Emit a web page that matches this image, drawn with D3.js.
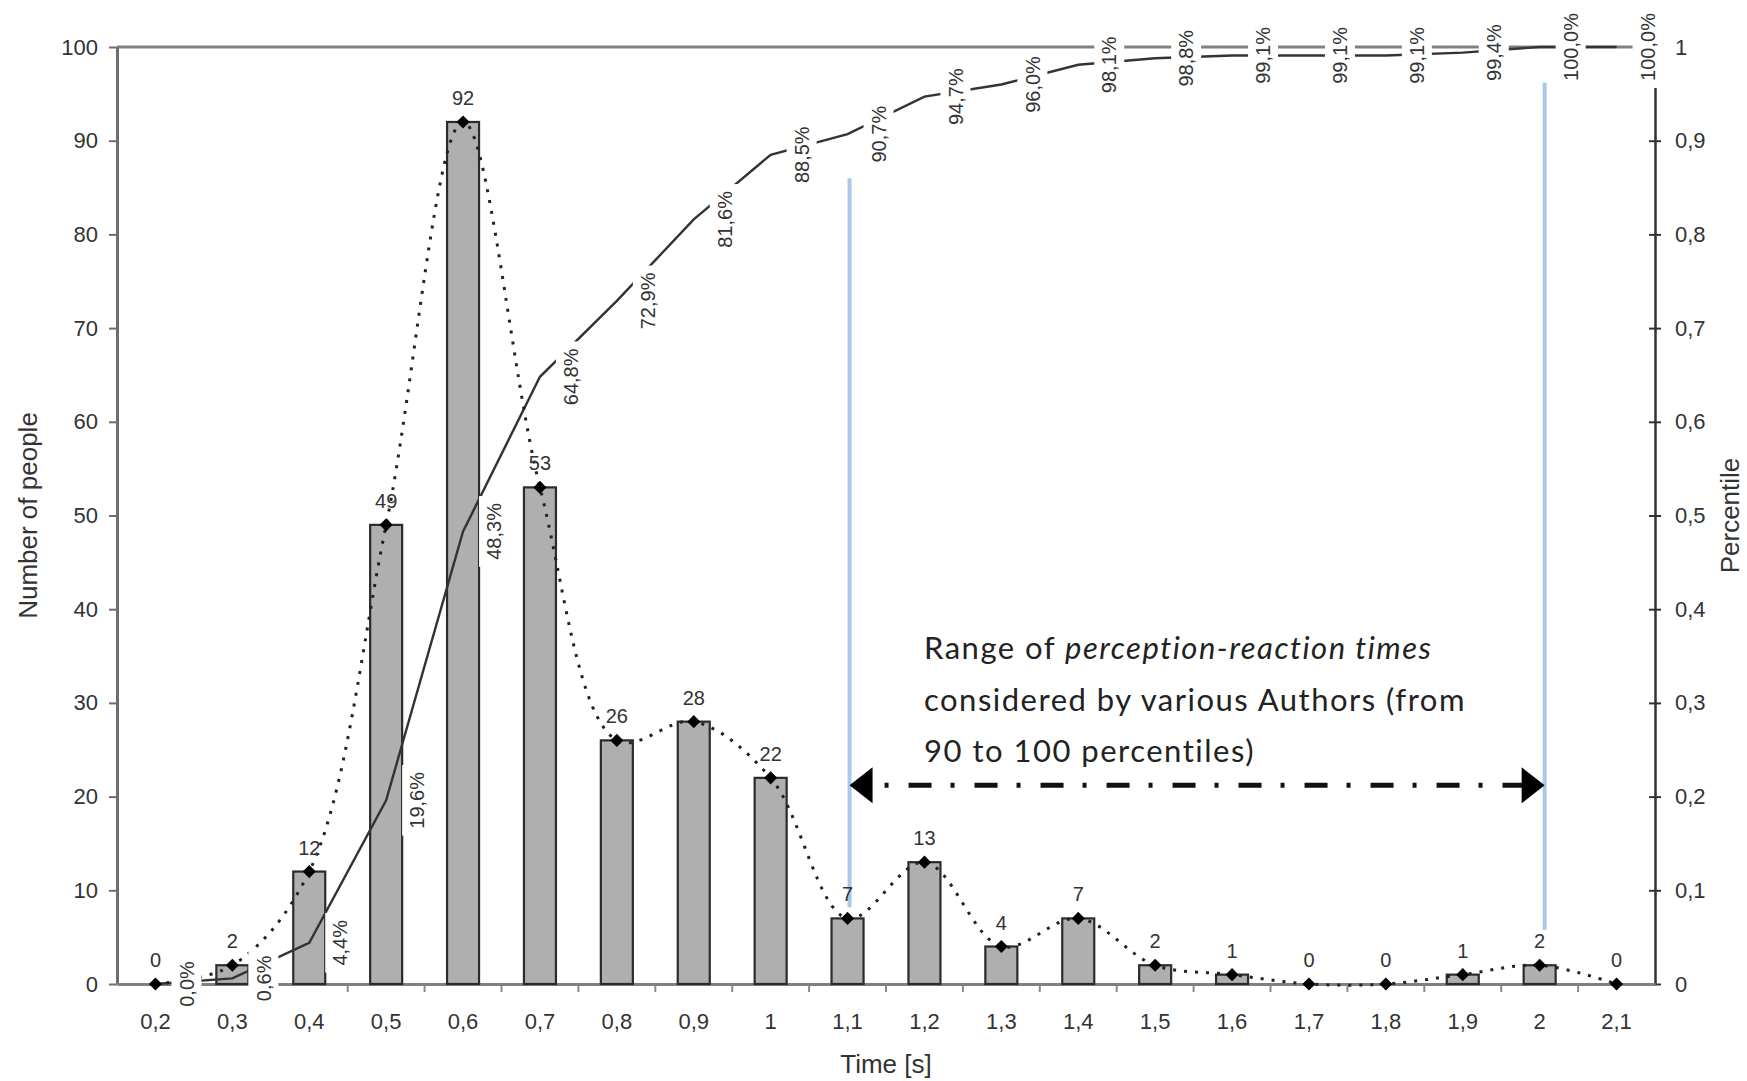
<!DOCTYPE html>
<html>
<head>
<meta charset="utf-8">
<script src="https://cdn.jsdelivr.net/npm/d3@7"></script>
<style>
  body { margin: 0; background: #fff; }
  svg text { font-family: "Liberation Sans", Arial, sans-serif; fill: #333; }
</style>
</head>
<body>
<script>
var times = ["0,2","0,3","0,4","0,5","0,6","0,7","0,8","0,9","1","1,1",
             "1,2","1,3","1,4","1,5","1,6","1,7","1,8","1,9","2","2,1"];
var people = [0, 2, 12, 49, 92, 53, 26, 28, 22, 7, 13, 4, 7, 2, 1, 0, 0, 1, 2, 0];
var cumulative = [0.0, 0.6, 4.4, 19.6, 48.3, 64.8, 72.9, 81.6, 88.5, 90.7,
                  94.7, 96.0, 98.1, 98.8, 99.1, 99.1, 99.1, 99.4, 100.0, 100.0];
var leftTicks = [0, 10, 20, 30, 40, 50, 60, 70, 80, 90, 100];
var rightTicks = [0, 0.1, 0.2, 0.3, 0.4, 0.5, 0.6, 0.7, 0.8, 0.9, 1];

// 90th and 100th percentile markers (category, top and bottom in people units)
var rangeFrom = { time: "1,1", top: 86, bottom: 8.2 };
var rangeTo   = { time: "2",   top: 96.2, bottom: 5.8 };
var arrowLevel = 21.2;

var w = 1747, h = 1081;
var pLeft = 117, pRight = 1655, pTop = 47, pBottom = 984;

var comma = function(v) { return String(v).replace(".", ","); };

var svg = d3.select("body").append("svg")
            .attr("width", w)
            .attr("height", h);

svg.append("rect").attr("width", w).attr("height", h).attr("fill", "#fff");

var x = d3.scaleBand().domain(times).range([pLeft, pRight]);
var bw = x.bandwidth();
var cx = function(t) { return x(t) + bw / 2; };
var yL = d3.scaleLinear().domain([0, 100]).range([pBottom, pTop]);
var yR = d3.scaleLinear().domain([0, 1]).range([pBottom, pTop]);

// plot frame top line
svg.append("line")
   .attr("x1", pLeft).attr("x2", pRight)
   .attr("y1", pTop).attr("y2", pTop)
   .attr("stroke", "#808080").attr("stroke-width", 3);

// left axis
var gL = svg.append("g")
            .attr("transform", "translate(" + pLeft + ",0)")
            .call(d3.axisLeft(yL).tickValues(leftTicks).tickSize(8).tickSizeOuter(0).tickPadding(11));
gL.select(".domain").attr("stroke", "#6e6e6e").attr("stroke-width", 3);
gL.selectAll(".tick line").attr("stroke", "#6e6e6e").attr("stroke-width", 2);
gL.selectAll(".tick text").attr("font-size", 22).attr("fill", "#333");

// right axis
var gR = svg.append("g")
            .attr("transform", "translate(" + pRight + ",0)")
            .call(d3.axisRight(yR).tickValues(rightTicks).tickFormat(comma)
                    .tickSize(6).tickSizeOuter(0).tickPadding(14));
gR.select(".domain").attr("stroke", "#333").attr("stroke-width", 2.5);
gR.selectAll(".tick line").attr("x1", -6).attr("stroke", "#333").attr("stroke-width", 2);
gR.selectAll(".tick text").attr("font-size", 22).attr("fill", "#333");

// bottom axis
var gX = svg.append("g")
            .attr("transform", "translate(0," + pBottom + ")")
            .call(d3.axisBottom(x).tickSize(0).tickPadding(29));
gX.select(".domain").attr("stroke", "#808080").attr("stroke-width", 3);
gX.selectAll(".tick text").attr("font-size", 22).attr("fill", "#333");
gX.selectAll(".cat-tick")
  .data(times.slice(1))
  .enter()
  .append("line")
  .attr("x1", d => x(d)).attr("x2", d => x(d))
  .attr("y1", 1).attr("y2", 8)
  .attr("stroke", "#8a8a8a").attr("stroke-width", 2);

// axis titles
svg.append("text")
   .attr("transform", "translate(37," + (pTop + pBottom) / 2 + ") rotate(-90)")
   .attr("text-anchor", "middle")
   .attr("font-size", 26)
   .text("Number of people");

svg.append("text")
   .attr("transform", "translate(1739," + (pTop + pBottom) / 2 + ") rotate(-90)")
   .attr("text-anchor", "middle")
   .attr("font-size", 26)
   .text("Percentile");

svg.append("text")
   .attr("x", (pLeft + pRight) / 2)
   .attr("y", 1073)
   .attr("text-anchor", "middle")
   .attr("font-size", 26)
   .text("Time [s]");

// bars
svg.selectAll(".bar")
   .data(people)
   .enter()
   .append("rect")
   .attr("class", "bar")
   .attr("x", (d, i) => cx(times[i]) - 16)
   .attr("width", 32)
   .attr("y", d => yL(d))
   .attr("height", d => yL(0) - yL(d))
   .attr("fill", "#afafaf")
   .attr("stroke", "#2b2b2b")
   .attr("stroke-width", 2.2);

// blue percentile lines
[rangeFrom, rangeTo].forEach(function(r, k) {
    var xx = cx(r.time) + (k == 0 ? 2 : 5);
    svg.append("line")
       .attr("x1", xx).attr("x2", xx)
       .attr("y1", yL(r.top)).attr("y2", yL(r.bottom))
       .attr("stroke", "#a9c9ec").attr("stroke-width", 4);
});

// cumulative line
var cumLine = d3.line()
                .x((d, i) => cx(times[i]))
                .y(d => yR(d / 100));
svg.append("path")
   .datum(cumulative)
   .attr("d", cumLine)
   .attr("fill", "none")
   .attr("stroke", "#333")
   .attr("stroke-width", 2.4);

// smoothed dotted line through counts
var countLine = d3.line()
                  .curve(d3.curveCatmullRom.alpha(0.5))
                  .x((d, i) => cx(times[i]))
                  .y(d => yL(d));
svg.append("path")
   .datum(people)
   .attr("d", countLine)
   .attr("fill", "none")
   .attr("stroke", "#222")
   .attr("stroke-width", 3)
   .attr("stroke-dasharray", "3 8");

// diamond markers
svg.selectAll(".dot")
   .data(people)
   .enter()
   .append("path")
   .attr("class", "dot")
   .attr("d", d3.symbol(d3.symbolDiamond2, 110))
   .attr("transform", (d, i) => "translate(" + cx(times[i]) + "," + yL(d) + ")")
   .attr("fill", "#000");

// count labels
svg.selectAll(".count")
   .data(people)
   .enter()
   .append("text")
   .attr("class", "count")
   .attr("x", (d, i) => cx(times[i]))
   .attr("y", d => yL(d) - 17)
   .attr("text-anchor", "middle")
   .attr("font-size", 20)
   .text(d => d);

// cumulative percent labels, rotated with white boxes
var pct = svg.selectAll(".pct")
             .data(cumulative)
             .enter()
             .append("g")
             .attr("class", "pct")
             .attr("transform", (d, i) => "translate(" + (cx(times[i]) + 31) + "," + yR(d / 100) + ") rotate(-90)");
pct.append("rect").attr("fill", "#fff");
var pctText = pct.append("text")
                 .attr("text-anchor", "middle")
                 .attr("dy", "0.36em")
                 .attr("font-size", 20)
                 .text(d => d.toFixed(1).replace(".", ",") + "%");
pctText.each(function() {
    var len = this.getComputedTextLength();
    d3.select(this.parentNode).select("rect")
      .attr("x", -len / 2 - 7).attr("width", len + 14)
      .attr("y", -15).attr("height", 30);
});

// range arrow
var ax1 = cx(rangeFrom.time) + 2, ax2 = cx(rangeTo.time) + 5, ay = yL(arrowLevel);
svg.append("line")
   .attr("x1", ax1 + 22).attr("x2", ax2 - 22)
   .attr("y1", ay).attr("y2", ay)
   .attr("stroke", "#111")
   .attr("stroke-width", 5)
   .attr("stroke-dasharray", "4 20 23 19")
   .attr("stroke-dashoffset", 53);
svg.append("path")
   .attr("d", "M" + ax1 + "," + ay + "L" + (ax1 + 23) + "," + (ay - 18) + "L" + (ax1 + 23) + "," + (ay + 18) + "Z")
   .attr("fill", "#000");
svg.append("path")
   .attr("d", "M" + ax2 + "," + ay + "L" + (ax2 - 23) + "," + (ay - 18) + "L" + (ax2 - 23) + "," + (ay + 18) + "Z")
   .attr("fill", "#000");

// annotation
var note = svg.append("text")
              .attr("x", 924)
              .attr("y", 659)
              .attr("font-size", 31)
              .attr("letter-spacing", 1.5)
              .style("font-family", "Lato, 'Open Sans', sans-serif")
              .style("fill", "#222");
note.append("tspan").text("Range of ");
note.append("tspan").style("font-style", "italic").text("perception-reaction times");
note.append("tspan").attr("x", 924).attr("y", 711).text("considered by various Authors (from");
note.append("tspan").attr("x", 924).attr("y", 762).text("90 to 100 percentiles)");
</script>
</body>
</html>
